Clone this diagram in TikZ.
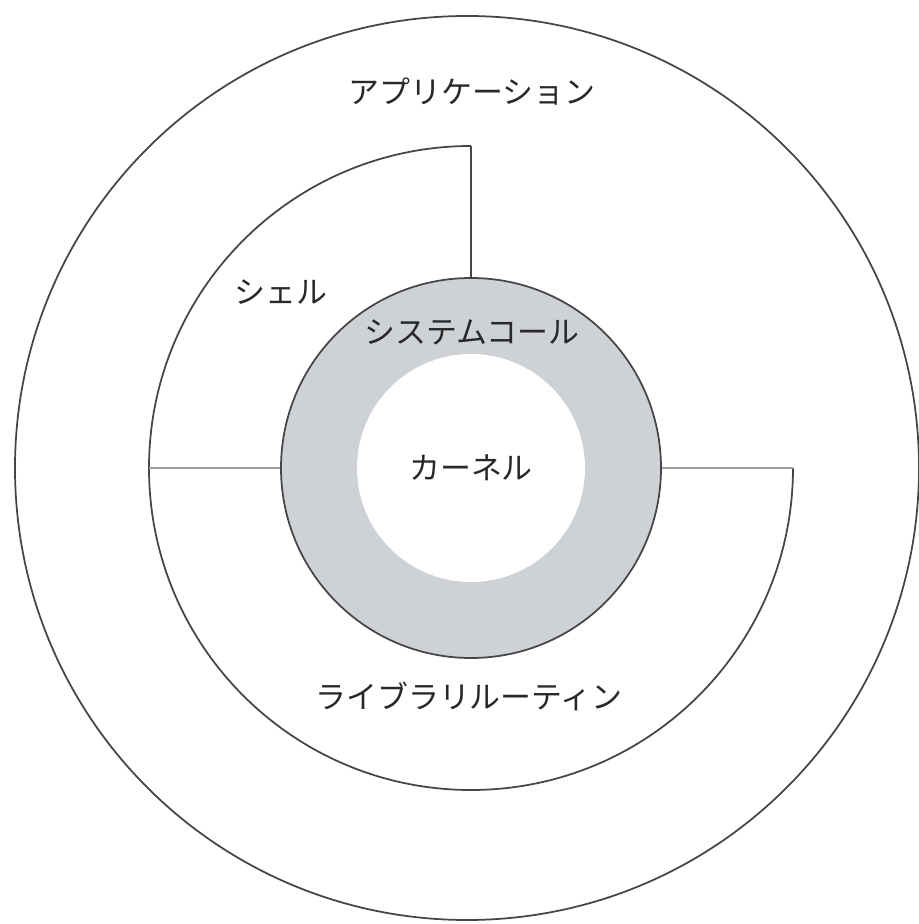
\documentclass[tikz,border=0pt]{standalone}
\usepackage{fontspec}
\setmainfont{Noto Sans CJK JP}
\usepackage{tikz}
\definecolor{callgray}{RGB}{206,209,213}
\definecolor{rimgray}{RGB}{70,70,70}
\definecolor{linkgray}{RGB}{155,155,155}
\definecolor{inkgray}{RGB}{40,40,40}
\tikzset{
  rim/.style={draw=rimgray, line width=0.5pt},
  link/.style={draw=linkgray, line width=0.6pt},
  lbl/.style={text=inkgray, font=\fontsize{8.8}{10}\selectfont, inner sep=0pt}
}

\begin{document}
\begin{tikzpicture}
                \useasboundingbox (-4.71,-4.56) rectangle (4.47,4.68);
                 \draw[rim] (-0.04,0) circle (4.52 cm);
                 \node[rim, circle, fill=callgray, minimum size=3.8cm, inner sep=0pt] (syscall) at (0,0) {};
                 \node[circle, fill=white, minimum size=2.28cm, inner sep=0pt] (kernel) at (0,0) {};
                 \coordinate (shelltop) at (0,3.22);
                 \coordinate (shellleft) at (-3.22,0);
                 \coordinate (libright) at (3.22,0);
                 \draw[rim] (shelltop) arc (90:360:3.22 cm);
                 \draw[rim] (shelltop) -- (syscall.north);
                 \draw[link] (shellleft) -- (syscall.west);
                 \draw[link] (libright) -- (syscall.east);
                 \node[lbl] (app) at (0.01,3.76) {アプリケーション};
                 \node[lbl] (shell) at (-1.90,1.76) {シェル};
                 \node[lbl] (calltext) at (0.01,1.36) {システムコール};
                 \node[lbl] (kerneltext) at (0,0) {カーネル};
                 \node[lbl] (lib) at (-0.02,-2.28) {ライブラリルーティン};
            \end{tikzpicture}
\end{document}
